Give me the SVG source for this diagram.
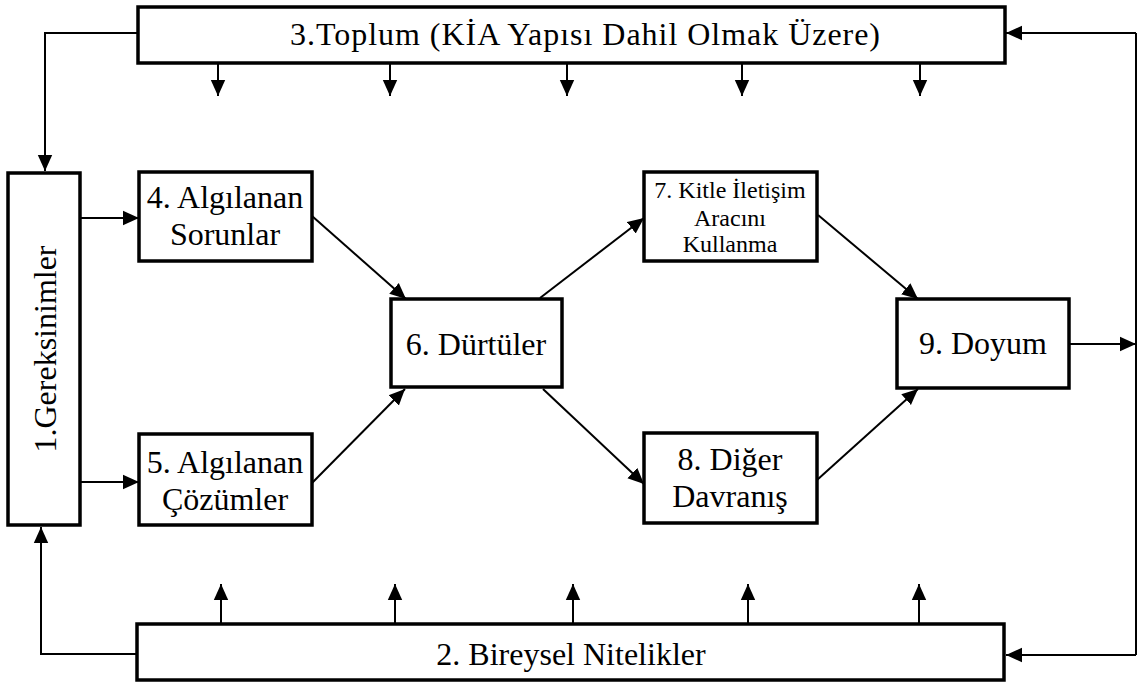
<svg xmlns="http://www.w3.org/2000/svg" width="1138" height="683" viewBox="0 0 1138 683">
  <style>
    .box { fill: #fff; stroke: #000; stroke-width: 3.5; }
    .lbl { fill: #000; text-anchor: middle; }
    .wire { fill: none; stroke: #000; stroke-width: 2; }
  </style>
  <defs>
    <marker id="arrL" viewBox="0 0 10 10" refX="10" refY="5" markerWidth="16" markerHeight="16" markerUnits="userSpaceOnUse" orient="auto">
      <path d="M0,0.5 L10,5 L0,9.5 z" fill="#000"/>
    </marker>
  </defs>

  <!-- connectors -->
  <g id="connectors">
    <!-- society bar to needs -->
    <path class="wire" d="M138,33 H45 V171" marker-end="url(#arrL)"/>
    <!-- individual traits to needs -->
    <path class="wire" d="M137,654 H41 V527" marker-end="url(#arrL)"/>
    <!-- satisfaction feedback loop -->
    <path class="wire" d="M1070,344 H1136" marker-end="url(#arrL)"/>
    <path class="wire" d="M1136,33 V655"/>
    <path class="wire" d="M1136,33 H1006" marker-end="url(#arrL)"/>
    <path class="wire" d="M1136,655 H1006" marker-end="url(#arrL)"/>
    <!-- needs to problems / solutions -->
    <path class="wire" d="M80,218 H139" marker-end="url(#arrL)"/>
    <path class="wire" d="M80,482 H139" marker-end="url(#arrL)"/>
    <!-- diagonals -->
    <path class="wire" d="M312,216 L406,299" marker-end="url(#arrL)"/>
    <path class="wire" d="M312,483 L405,389" marker-end="url(#arrL)"/>
    <path class="wire" d="M540,298 L644,218" marker-end="url(#arrL)"/>
    <path class="wire" d="M543,389 L644,484" marker-end="url(#arrL)"/>
    <path class="wire" d="M818,215 L918,299" marker-end="url(#arrL)"/>
    <path class="wire" d="M817,480 L918,389" marker-end="url(#arrL)"/>
    <!-- influences from society -->
    <path class="wire" d="M218,63 V96" marker-end="url(#arrL)"/>
    <path class="wire" d="M390,63 V96" marker-end="url(#arrL)"/>
    <path class="wire" d="M567,63 V96" marker-end="url(#arrL)"/>
    <path class="wire" d="M742,63 V96" marker-end="url(#arrL)"/>
    <path class="wire" d="M920,63 V96" marker-end="url(#arrL)"/>
    <!-- influences from individual traits -->
    <path class="wire" d="M221,624 V584" marker-end="url(#arrL)"/>
    <path class="wire" d="M395,624 V584" marker-end="url(#arrL)"/>
    <path class="wire" d="M573,624 V584" marker-end="url(#arrL)"/>
    <path class="wire" d="M748,624 V584" marker-end="url(#arrL)"/>
    <path class="wire" d="M919,624 V584" marker-end="url(#arrL)"/>
  </g>

  <g id="n3">
    <rect class="box" x="138" y="7" width="867" height="56"/>
    <text class="lbl" style="font-family:'Liberation Serif',serif;font-size:32px" x="585" y="45" textLength="590" lengthAdjust="spacing">3.Toplum (KİA Yapısı Dahil Olmak Üzere)</text>
  </g>

  <g id="n2">
    <rect class="box" x="137" y="624" width="867" height="56"/>
    <text class="lbl" style="font-family:'Liberation Serif',serif;font-size:32px" x="571" y="665">2. Bireysel Nitelikler</text>
  </g>

  <g id="n1">
    <rect class="box" x="8" y="173" width="72" height="352"/>
    <text class="lbl" style="font-family:'Liberation Serif',serif;font-size:32px" transform="translate(56,349) rotate(-90)" x="0" y="0">1.Gereksinimler</text>
  </g>

  <g id="n4">
    <rect class="box" x="139" y="172" width="173" height="89"/>
    <text class="lbl" style="font-family:'Liberation Serif',serif;font-size:32px" x="225" y="208">4. Algılanan</text>
    <text class="lbl" style="font-family:'Liberation Serif',serif;font-size:32px" x="225" y="245">Sorunlar</text>
  </g>

  <g id="n5">
    <rect class="box" x="139" y="434" width="173" height="91"/>
    <text class="lbl" style="font-family:'Liberation Serif',serif;font-size:32px" x="225" y="473">5. Algılanan</text>
    <text class="lbl" style="font-family:'Liberation Serif',serif;font-size:32px" x="225" y="510">Çözümler</text>
  </g>

  <g id="n6">
    <rect class="box" x="391" y="299" width="171" height="88"/>
    <text class="lbl" style="font-family:'Liberation Serif',serif;font-size:32px" x="476" y="355">6. Dürtüler</text>
  </g>

  <g id="n7">
    <rect class="box" x="644" y="172" width="173" height="89"/>
    <text class="lbl" style="font-family:'Liberation Serif',serif;font-size:24px" x="730" y="198">7. Kitle İletişim</text>
    <text class="lbl" style="font-family:'Liberation Serif',serif;font-size:24px" x="730" y="226">Aracını</text>
    <text class="lbl" style="font-family:'Liberation Serif',serif;font-size:24px" x="730" y="252">Kullanma</text>
  </g>

  <g id="n8">
    <rect class="box" x="644" y="433" width="173" height="90"/>
    <text class="lbl" style="font-family:'Liberation Serif',serif;font-size:32px" x="730" y="470">8. Diğer</text>
    <text class="lbl" style="font-family:'Liberation Serif',serif;font-size:32px" x="730" y="507">Davranış</text>
  </g>

  <g id="n9">
    <rect class="box" x="897" y="299" width="172" height="89"/>
    <text class="lbl" style="font-family:'Liberation Serif',serif;font-size:32px" x="983" y="354">9. Doyum</text>
  </g>
</svg>
